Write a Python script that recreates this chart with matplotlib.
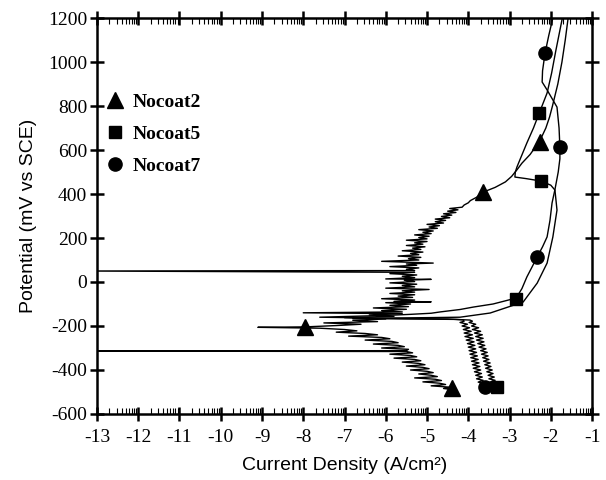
import matplotlib.pyplot as plt
import numpy as np

plt.rcParams['axes.unicode_minus'] = False

# (potential mV, log current density) pairs in scan order
# Nocoat2 (triangle)
nc2_pts = [(-490, -4.35), (-484, -4.6), (-478, -4.45), (-472, -4.9), (-466, -4.55), (-460, -4.7),
           (-454, -5.1), (-448, -4.65), (-442, -4.8), (-436, -5.3), (-430, -4.75), (-424, -4.9),
           (-418, -5.2), (-412, -4.85), (-406, -5.0), (-400, -5.4), (-394, -4.95), (-388, -5.1),
           (-382, -5.5), (-376, -5.05), (-370, -5.2), (-364, -5.6), (-358, -5.15), (-352, -5.3),
           (-346, -5.8), (-340, -5.25), (-334, -5.4), (-328, -5.9), (-322, -5.35), (-316, -5.5),
           (-314, -13.5), (-312, -5.5), (-306, -5.45), (-300, -6.1), (-294, -5.55), (-288, -5.7),
           (-282, -6.3), (-276, -5.7), (-270, -5.85), (-264, -6.5), (-258, -5.9), (-252, -6.1),
           (-246, -6.9), (-240, -6.2), (-234, -6.5), (-228, -7.2), (-222, -6.7), (-216, -7.0),
           (-210, -7.6), (-206, -9.1), (-204, -7.95),
           (-198, -7.2), (-192, -6.6), (-186, -7.5), (-180, -6.2), (-174, -6.8), (-168, -6.0),
           (-162, -7.0), (-156, -5.8), (-150, -6.4), (-144, -5.6), (-140, -8.0), (-136, -5.6),
           (-130, -6.1), (-124, -5.5), (-118, -6.3), (-112, -5.45), (-106, -5.9), (-100, -5.4),
           (-94, -6.0), (-90, -4.9), (-88, -5.8), (-82, -5.3), (-76, -6.1), (-70, -5.35),
           (-64, -5.7), (-58, -5.3), (-52, -5.9), (-46, -5.3), (-40, -5.6), (-34, -4.95),
           (-28, -6.0), (-22, -5.3), (-16, -5.6), (-10, -5.25), (-4, -5.9), (2, -5.3),
           (8, -5.55), (12, -4.9), (14, -6.0), (20, -5.3), (26, -5.6), (32, -5.25),
           (38, -5.9), (44, -5.3), (50, -13.5), (52, -5.3), (58, -5.5), (64, -5.2),
           (70, -5.9), (76, -5.25), (82, -5.5), (86, -4.85), (94, -6.1), (100, -5.2),
           (106, -5.45), (112, -5.15), (118, -5.7), (124, -5.2), (130, -5.4), (136, -5.1),
           (142, -5.6), (148, -5.15), (154, -5.35), (160, -5.05), (166, -5.5), (172, -5.1),
           (178, -5.3), (184, -5.0), (190, -5.5), (196, -5.0), (202, -5.2), (208, -4.95),
           (214, -5.3), (220, -4.9), (226, -5.1), (232, -4.85), (238, -5.2), (244, -4.75),
           (250, -4.95), (256, -4.7), (262, -5.0), (268, -4.6), (274, -4.8), (280, -4.55),
           (286, -4.8), (292, -4.45), (298, -4.65), (304, -4.4), (310, -4.6), (316, -4.3),
           (322, -4.5), (328, -4.25), (334, -4.45), (340, -4.15), (350, -4.1), (360, -4.0),
           (370, -3.95), (385, -3.8), (400, -3.7), (410, -3.62), (430, -3.35), (455, -3.1),
           (480, -2.95), (510, -2.82), (540, -2.7), (580, -2.5), (620, -2.35), (660, -2.22),
           (700, -2.12), (750, -2.03), (800, -1.96), (900, -1.83), (1000, -1.73), (1100, -1.65),
           (1200, -1.58)]

# Nocoat5 (square)
nc5_pts = [(-477, -3.30), (-470, -3.42), (-462, -3.33), (-455, -3.48), (-447, -3.35), (-440, -3.5),
           (-432, -3.37), (-424, -3.52), (-416, -3.40), (-408, -3.55), (-400, -3.42), (-392, -3.58),
           (-384, -3.45), (-376, -3.6), (-368, -3.47), (-360, -3.63), (-352, -3.5), (-344, -3.65),
           (-336, -3.52), (-328, -3.68), (-320, -3.54), (-312, -3.7), (-304, -3.57), (-296, -3.74),
           (-288, -3.6), (-280, -3.77), (-272, -3.62), (-264, -3.8), (-256, -3.64), (-248, -3.82),
           (-240, -3.66), (-232, -3.85), (-224, -3.7), (-216, -3.9), (-208, -3.75), (-200, -3.92),
           (-192, -3.82), (-184, -3.98), (-178, -3.9), (-173, -3.96), (-170, -4.3), (-166, -6.8),
           (-162, -5.0), (-160, -4.2), (-141, -3.47), (-91, -2.67), (-5, -2.33), (86, -2.09),
           (205, -1.95), (327, -1.85), (418, -1.9), (440, -2.0), (459, -2.24), (470, -2.6),
           (477, -2.87), (500, -2.86), (523, -2.82), (555, -2.75), (632, -2.58), (700, -2.42),
           (768, -2.28), (859, -2.09), (950, -1.98), (1050, -1.88), (1200, -1.72)]

# Nocoat7 (circle)
nc7_pts = [(-477, -3.59), (-470, -3.72), (-462, -3.62), (-455, -3.76), (-447, -3.64), (-440, -3.8),
           (-432, -3.66), (-424, -3.82), (-416, -3.68), (-408, -3.85), (-400, -3.7), (-392, -3.88),
           (-384, -3.72), (-376, -3.9), (-368, -3.74), (-360, -3.92), (-352, -3.76), (-344, -3.94),
           (-336, -3.78), (-328, -3.96), (-320, -3.8), (-312, -3.98), (-304, -3.82), (-296, -4.0),
           (-288, -3.84), (-280, -4.02), (-272, -3.86), (-264, -4.05), (-256, -3.88), (-248, -4.08),
           (-240, -3.9), (-232, -4.1), (-224, -3.93), (-216, -4.12), (-208, -3.97), (-200, -4.15),
           (-192, -4.02), (-184, -4.2), (-178, -4.1), (-172, -4.13),
           (-168, -4.5), (-166, -5.5), (-160, -7.6), (-152, -6.0), (-147, -5.4), (-142, -4.9),
           (-136, -4.68), (-125, -4.2), (-114, -3.88), (-100, -3.4), (-73, -2.84), (-30, -2.7),
           (23, -2.58), (70, -2.45), (114, -2.33), (160, -2.2), (205, -2.09), (280, -2.02),
           (359, -1.97), (420, -1.9), (500, -1.82), (560, -1.78), (614, -1.78), (700, -1.8),
           (795, -1.85), (873, -2.09), (909, -2.21), (960, -2.2), (1040, -2.14), (1120, -2.05),
           (1200, -1.95)]

# marker positions
nc2_mk_x = [-7.96, -4.4, -3.64, -2.26]
nc2_mk_y = [-205, -482, 409, 638]
nc5_mk_x = [-2.28, -2.24, -2.84, -3.30]
nc5_mk_y = [768, 459, -75, -477]
nc7_mk_x = [-2.14, -1.78, -2.33, -3.59]
nc7_mk_y = [1041, 614, 114, -477]

fig = plt.figure(figsize=(6.06, 4.8), dpi=100)
ax = fig.add_axes([0.160, 0.1375, 0.817, 0.825])

for pts in (nc2_pts, nc5_pts, nc7_pts):
    mv, logi = zip(*pts)
    ax.plot(logi, mv, color='black', lw=1.0)

ax.plot(nc2_mk_x, nc2_mk_y, '^', color='black', ms=11, ls='none', label='Nocoat2')
ax.plot(nc5_mk_x, nc5_mk_y, 's', color='black', ms=9, ls='none', label='Nocoat5')
ax.plot(nc7_mk_x, nc7_mk_y, 'o', color='black', ms=9.5, ls='none', label='Nocoat7')

ax.set_xlim(-13, -1)
ax.set_ylim(-600, 1200)
ax.set_xticks(np.arange(-13, 0, 1))
ax.set_yticks(np.arange(-600, 1201, 200))
minor = [n + np.log10(k) for n in range(-13, -1) for k in range(2, 10)]
ax.set_xticks(minor, minor=True)

ax.tick_params(axis='x', which='major', direction='inout', length=10, width=1.8,
               top=True, labelsize=14, pad=6)
ax.tick_params(axis='x', which='minor', direction='in', length=4, width=0.8, top=True)
ax.tick_params(axis='y', which='major', direction='inout', length=10, width=1.8,
               right=True, labelsize=14, pad=2)
for lab in ax.get_xticklabels() + ax.get_yticklabels():
    lab.set_family('Liberation Serif')
for sp in ax.spines.values():
    sp.set_linewidth(1.8)

ax.set_xlabel('Current Density (A/cm²)', fontsize=14, family='Liberation Sans', labelpad=8)
ax.set_ylabel('Potential (mV vs SCE)', fontsize=14, family='Liberation Sans', labelpad=8)

ax.legend(loc='upper left', bbox_to_anchor=(-0.015, 0.855), frameon=False, handlelength=0.8,
          handletextpad=0.5, labelspacing=0.75,
          prop={'family': 'Liberation Serif', 'weight': 'bold', 'size': 14})

fig.savefig('out.png', dpi=100)
